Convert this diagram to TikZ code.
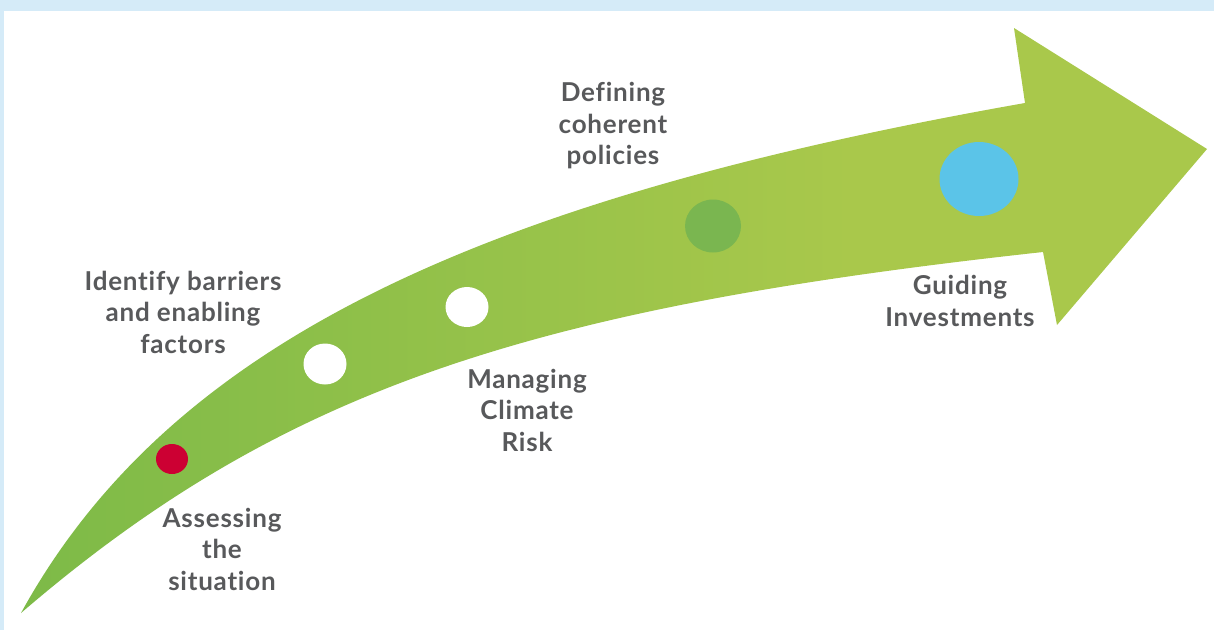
\documentclass[tikz,border=0pt]{standalone}
\usepackage{fontspec}
\setmainfont{Lato}[Ligatures={NoCommon,NoRequired,NoContextual},LetterSpace=3]
\usetikzlibrary{shapes.geometric}
\definecolor{framecol}{RGB}{213,235,248}
\definecolor{gL}{RGB}{125,186,72}
\definecolor{gR}{RGB}{169,200,75}
\definecolor{txt}{RGB}{88,89,91}
\definecolor{dotred}{RGB}{204,0,51}
\definecolor{dotgreen}{RGB}{122,182,80}
\definecolor{dotblue}{RGB}{91,196,232}
\pgfdeclarehorizontalshading{arrowshade}{100bp}{color(0bp)=(gL); color(25bp)=(gL); color(60bp)=(gR); color(100bp)=(gR)}
\begin{document}
\begin{tikzpicture}[x=1pt,y=-1pt,
 steplabel/.style={text=txt, font=\fontsize{26}{31.5}\selectfont\bfseries, align=center, inner sep=0pt},
 dot/.style={ellipse, inner sep=0pt, draw=none}]
\fill[framecol] (0,0) rectangle (1214,630);
\fill[white] (4,11) rectangle (1214,630);
\useasboundingbox (0,0) rectangle (1214,630);
\shade[shading=arrowshade] (21,613) .. controls (170,342) and (480,199) .. (1025,103) -- (1014,28) -- (1207,149) -- (1057,325) -- (1043,252) .. controls (530.6,308) and (282,388.6) .. cycle;
\node[dot, fill=dotred, minimum width=32pt, minimum height=30pt] (d1) at (172,459) {};
\node[dot, fill=white, minimum width=43pt, minimum height=41pt] (d2) at (325,364) {};
\node[dot, fill=white, minimum width=43pt, minimum height=40pt] (d3) at (467,307) {};
\node[dot, fill=dotgreen, minimum width=56pt, minimum height=53pt] (d4) at (713,226) {};
\node[dot, fill=dotblue, minimum width=79pt, minimum height=74pt] (d5) at (979,179) {};
\node[steplabel] (t1) at (222,549) {Assessing\\the\\situation};
\node[steplabel] (t2) at (183,312) {Identify barriers\\and enabling\\factors};
\node[steplabel] (t3) at (527,410) {Managing\\Climate\\Risk};
\node[steplabel] (t4) at (613,126) {Defining\\coherent\\policies};
\node[steplabel] (t5) at (960,301) {Guiding\\Investments};
\end{tikzpicture}
\end{document}
